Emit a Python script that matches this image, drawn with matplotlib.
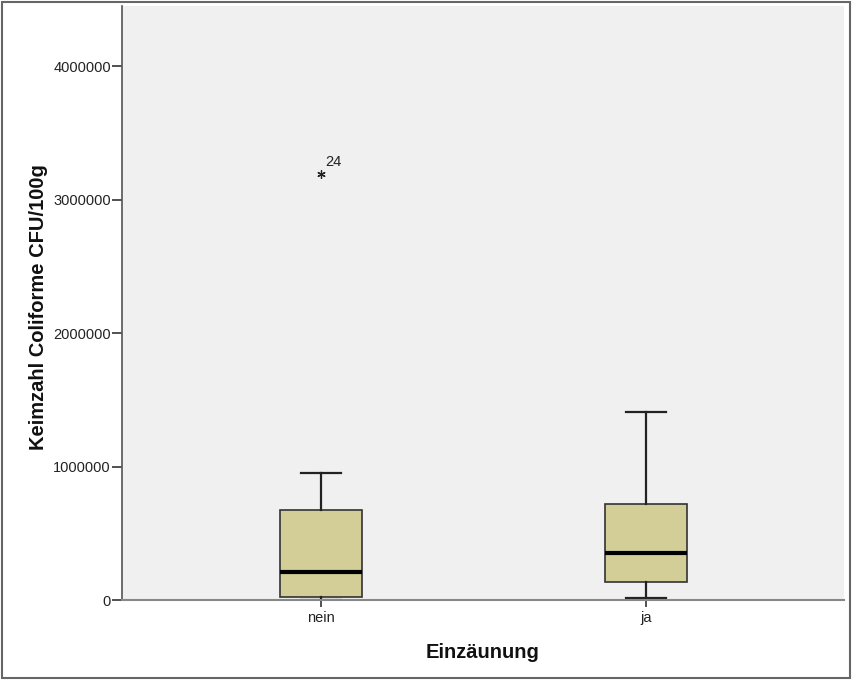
import matplotlib
matplotlib.use("Agg")
import matplotlib.pyplot as plt
from matplotlib.patches import Rectangle

plt.rcParams['font.family'] = ['Liberation Sans', 'DejaVu Sans']

# Group labels and five-number summaries (CFU/100g)
groups = ["nein", "ja"]
whisker_low = [0, 15000]
q1 = [25000, 135000]
median = [210000, 354000]
q3 = [674000, 717000]
whisker_high = [949000, 1406000]
outlier_values = [[3190000], []]
outlier_ids = [["24"], []]

y_ticks = [0, 1000000, 2000000, 3000000, 4000000]

W, H = 852, 680
fig = plt.figure(figsize=(W / 100, H / 100), dpi=100)
ax = fig.add_axes([122 / W, 80 / H, 722 / W, 594 / H])
ax.set_facecolor("#F0F0F0")

stats = []
for i, g in enumerate(groups):
    stats.append(dict(label=g, whislo=whisker_low[i], q1=q1[i], med=median[i],
                      q3=q3[i], whishi=whisker_high[i], fliers=[]))

positions = [1, 2]
ax.bxp(stats, positions=positions, widths=0.25, patch_artist=True,
       showfliers=False, capwidths=0.125,
       boxprops=dict(facecolor="#D3CE98", edgecolor="#333333", linewidth=1.2),
       medianprops=dict(color="black", linewidth=3),
       whiskerprops=dict(color="#222222", linewidth=1.6),
       capprops=dict(color="#222222", linewidth=1.6))

# Extreme values marked with an asterisk and case number
for pos, vals, ids in zip(positions, outlier_values, outlier_ids):
    for v, case in zip(vals, ids):
        ax.plot(pos, v, marker=(6, 2, 0), color="#222222", markersize=6,
                markeredgewidth=0.9, linestyle="none")
        ax.annotate(case, (pos, v), xytext=(3, 6), textcoords="offset points",
                    fontsize=10.5, color="#222222")

ax.set_xlim(0.388, 2.609)
ax.set_ylim(0, 4450000)
ax.set_yticks(y_ticks)
ax.set_yticklabels([str(t) for t in y_ticks])
ax.set_xticks(positions)
ax.set_xticklabels(groups)

for side in ("top", "right"):
    ax.spines[side].set_visible(False)
ax.spines["left"].set_color("#555555")
ax.spines["bottom"].set_color("#888888")
ax.spines["left"].set_linewidth(1.2)
ax.spines["bottom"].set_linewidth(1.5)

ax.tick_params(axis="y", length=7, width=1.2, color="#333333", labelsize=10.5,
               labelcolor="#222222", pad=1)
ax.tick_params(axis="x", length=5, width=1.2, color="#333333", labelsize=10.5,
               labelcolor="#222222", pad=3)

# Axis titles
fig.text(39 / W, 1 - 307 / H, "Keimzahl Coliforme CFU/100g", rotation=90,
         ha="center", va="center", fontsize=14.5, fontweight="bold",
         color="#111111")
fig.text(483 / W, 1 - 652 / H, "Einzäunung", ha="center", va="center",
         fontsize=14.5, fontweight="bold", color="#111111")

# Frame around the whole chart
fig.patches.append(Rectangle((2 / W, 2 / H), 848 / W, 676 / H,
                             transform=fig.transFigure, fill=False,
                             edgecolor="#666666", linewidth=1.5))

fig.savefig("out.png", dpi=100)
